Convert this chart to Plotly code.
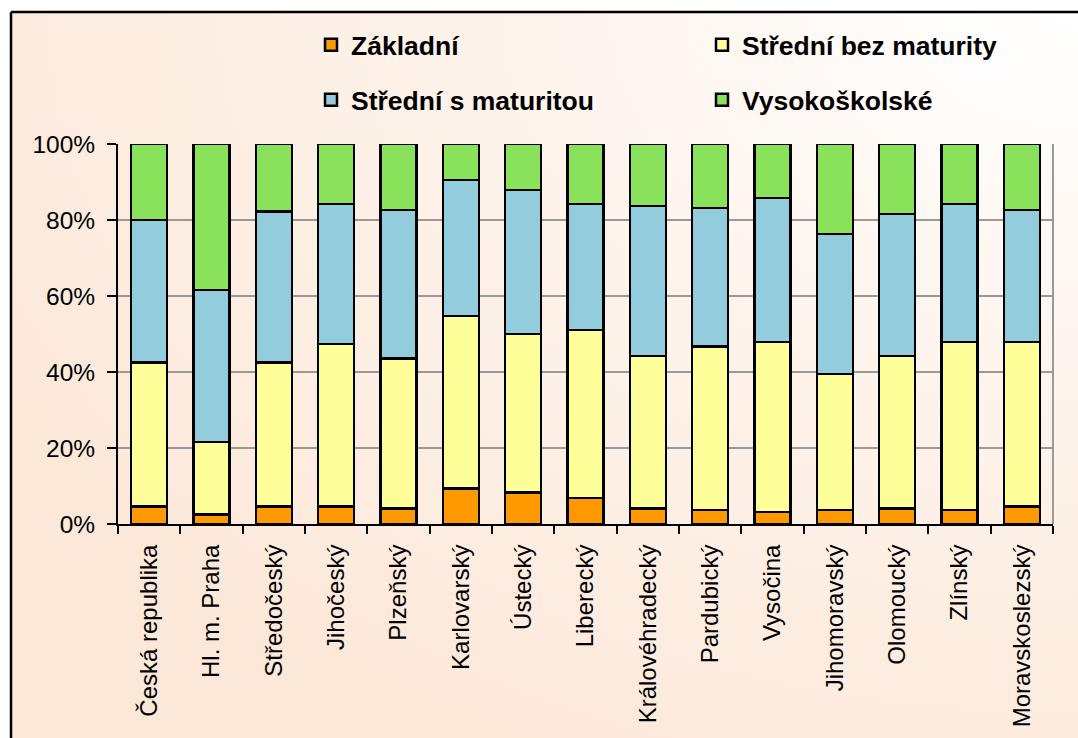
import base64
import plotly.graph_objects as go

regions = ["Česká republika", "Hl. m. Praha", "Středočeský", "Jihočeský", "Plzeňský",
           "Karlovarský", "Ústecký", "Liberecký", "Královéhradecký", "Pardubický",
           "Vysočina", "Jihomoravský", "Olomoucký", "Zlínský", "Moravskoslezský"]

zakladni = [4.6, 2.5, 4.6, 4.6, 4.1, 9.4, 8.3, 6.8, 4.1, 3.7, 3.1, 3.7, 4.1, 3.7, 4.6]
stredni_bez = [37.9, 19.1, 37.9, 42.8, 39.5, 45.3, 41.7, 44.3, 40.1, 43.0, 44.8, 35.8, 40.1, 44.2, 43.3]
stredni_s = [37.5, 40.0, 39.7, 36.8, 39.0, 35.8, 37.9, 33.1, 39.5, 36.4, 37.9, 36.8, 37.4, 36.3, 34.7]
vysokoskolske = [20.0, 38.4, 17.8, 15.8, 17.4, 9.5, 12.1, 15.8, 16.3, 16.9, 14.2, 23.7, 18.4, 15.8, 17.4]

series_names = ["Základní", "Střední bez maturity", "Střední s maturitou", "Vysokoškolské"]
series_values = [zakladni, stredni_bez, stredni_s, vysokoskolske]
series_colors = ["#FF9900", "#FFFF99", "#93CDDD", "#8AE25A"]
legend_ids = ["legend", "legend2", "legend3", "legend4"]
# legend item positions (pixels, symbol centre)
legend_pos = [(331, 45), (722, 45), (331, 100), (722, 100)]

fig = go.Figure()
for name, vals, color, lg in zip(series_names, series_values, series_colors, legend_ids):
    fig.add_trace(go.Bar(
        x=regions, y=vals, name=name, legend=lg, showlegend=True,
        marker=dict(color=color, line=dict(color="black", width=2.5)),
        width=0.58,
    ))

W, H = 1078, 738
L, R, T, B = 118, 1053, 144, 524
pw, ph = R - L, B - T

def px(xp):
    return (xp - L) / pw

def py(yp):
    return (B - yp) / ph

svg = ('<svg xmlns="http://www.w3.org/2000/svg" width="200" height="200" viewBox="0 0 100 100" preserveAspectRatio="none">'
       '<defs><radialGradient id="g" cx="100%" cy="0%" r="115%" fx="100%" fy="0%">'
       '<stop offset="0" stop-color="#FFFFFF"/><stop offset="0.4" stop-color="#FEF5EE"/>'
       '<stop offset="1" stop-color="#FCE8D9"/></radialGradient></defs>'
       '<rect x="0" y="0" width="100" height="100" fill="url(#g)"/></svg>')
src = "data:image/svg+xml;base64," + base64.b64encode(svg.encode("utf-8")).decode("ascii")

fig.add_layout_image(dict(
    source=src, xref="paper", yref="paper",
    x=px(11), y=py(12), sizex=px(W) - px(11), sizey=py(12) - py(H),
    xanchor="left", yanchor="top", sizing="stretch", layer="below",
))

shapes = [
    dict(type="line", xref="paper", yref="paper", x0=px(11), x1=px(11), y0=py(H + 5), y1=py(12),
         line=dict(color="black", width=2.5)),
    dict(type="line", xref="paper", yref="paper", x0=px(11), x1=px(W + 5), y0=py(12), y1=py(12),
         line=dict(color="black", width=2.5)),
    dict(type="line", xref="paper", yref="paper", x0=1, x1=1, y0=0, y1=1,
         line=dict(color="#999999", width=2)),
]

legend_font = dict(size=26.5, family="Liberation Sans, Arial", weight="bold", color="black")
legends = {}
for lg, (cx, cy) in zip(legend_ids, legend_pos):
    legends[lg] = dict(
        xref="container", yref="container", visible=True,
        x=(cx - 20) / W, y=(H - cy) / H, xanchor="left", yanchor="middle",
        orientation="h", font=legend_font, bgcolor="rgba(0,0,0,0)", borderwidth=0,
    )

fig.update_layout(
    width=W, height=H,
    showlegend=True,
    margin=dict(l=L, r=W - R, t=T, b=H - B, pad=0, autoexpand=False),
    paper_bgcolor="white",
    plot_bgcolor="rgba(0,0,0,0)",
    barmode="stack",
    shapes=shapes,
    font=dict(family="Liberation Sans, Arial", color="black"),
    xaxis=dict(
        type="category", tickangle=-90, tickson="boundaries", ticks="outside", ticklen=8,
        tickwidth=2, tickcolor="black", showline=True, linecolor="black", linewidth=2,
        tickfont=dict(size=24, family="Liberation Sans, Arial"), showgrid=False, automargin=False,
        ticklabelstandoff=9,
    ),
    yaxis=dict(
        range=[0, 100], dtick=20, ticksuffix="%", ticks="outside", ticklen=9, tickwidth=2,
        tickcolor="black", showline=True, linecolor="black", linewidth=2,
        showgrid=True, gridcolor="#999999", gridwidth=2, zeroline=False, automargin=False,
        tickfont=dict(size=24.5, family="Liberation Sans, Arial"), ticklabelstandoff=7,
    ),
    **legends,
)

fig.write_html("out.html", config={"displayModeBar": False},
               post_script="document.body.style.margin='0';")
